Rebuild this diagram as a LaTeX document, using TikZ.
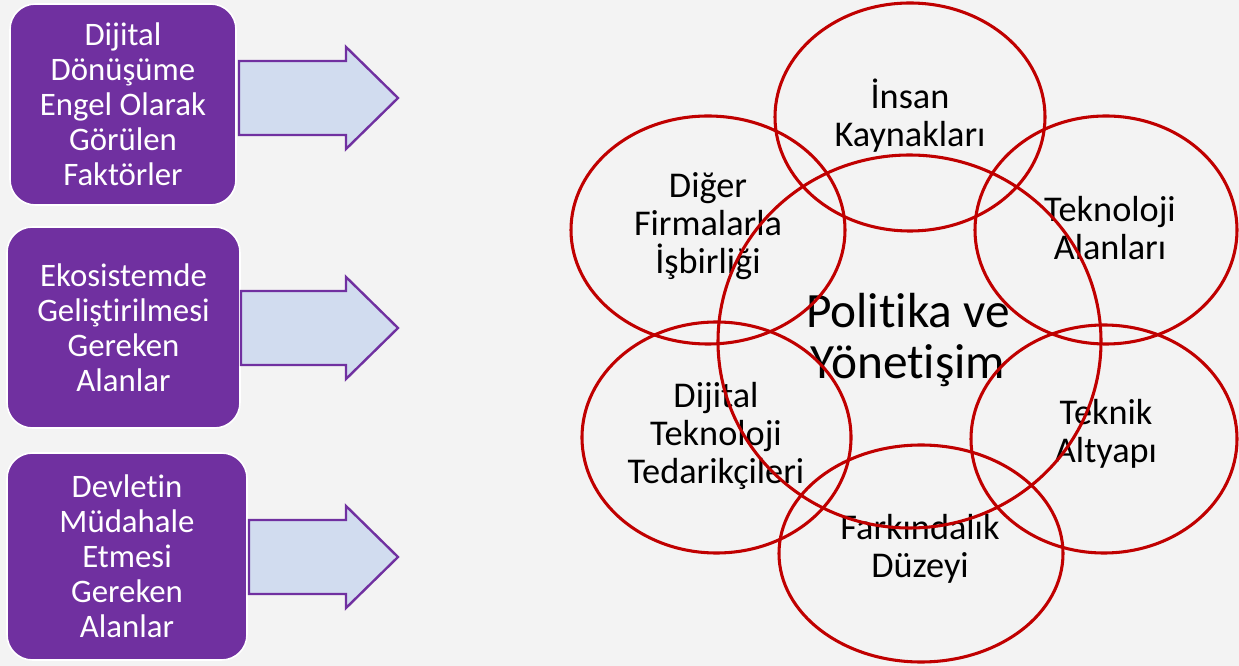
\documentclass[tikz,border=0pt]{standalone}
\usepackage{fontspec}
\setmainfont{Carlito}[Ligatures={NoCommon,NoContextual}]
\usetikzlibrary{shapes.geometric}
\definecolor{paper}{RGB}{243,243,243}
\definecolor{boxpurple}{RGB}{112,48,160}
\definecolor{arrowblue}{RGB}{209,220,239}
\definecolor{ringred}{RGB}{192,0,0}
\tikzset{
  factorbox/.style={draw=white, line width=1.2pt, fill=boxpurple, rounded corners=19pt,
    text=white, align=center, inner sep=0pt,
    font=\fontsize{24.6pt}{26.25pt}\selectfont},
  blockarrow/.style={draw=boxpurple, line width=1.8pt, fill=arrowblue, line join=miter},
  ring/.style 2 args={draw=ringred, line width=2.3pt, ellipse, inner sep=0pt,
    minimum width=#1*0.75pt, minimum height=#2*0.75pt},
  ringtext/.style={align=center, inner sep=0pt, text=black,
    font=\fontsize{27.2pt}{28.5pt}\selectfont},
  coretext/.style={align=center, inner sep=0pt, text=black,
    font=\fontsize{37pt}{38.25pt}\selectfont}
}
\begin{document}
\begin{tikzpicture}[x=0.75pt, y=-0.75pt]
  % page and paper background
  \useasboundingbox (0,0) rectangle (1239,666);
  \fill[paper] (0,0) rectangle (1239,666);

  % left column: purple factor boxes
  \node[factorbox, minimum width=226*0.75pt, minimum height=201*0.75pt] (b1) at (123,104.5)
    {Dijital\\Dönüşüme\\Engel Olarak\\Görülen\\Faktörler};
  \node[factorbox, minimum width=233*0.75pt, minimum height=201*0.75pt] (b2) at (123.5,327.5)
    {Ekosistemde\\Geliştirilmesi\\Gereken\\Alanlar};
  \node[factorbox, minimum width=240*0.75pt, minimum height=207*0.75pt] (b3) at (127,556.5)
    {Devletin\\Müdahale\\Etmesi\\Gereken\\Alanlar};

  % block arrows pointing to the cluster
  \foreach \sx/\cy in {239/98, 241/328, 249/557}
    \draw[blockarrow] (\sx,\cy-37) -- (346,\cy-37) -- (346,\cy-51) -- (398,\cy)
      -- (346,\cy+51) -- (346,\cy+37) -- (\sx,\cy+37) -- cycle;

  % labels of the cluster
  \node[ringtext] (hrt) at (910,116) {İnsan\\Kaynakları};
  \node[ringtext] (cot) at (708,226) {Diğer\\Firmalarla\\İşbirliği};
  \node[ringtext] (tat) at (1110,228) {Teknoloji\\Alanları};
  \node[coretext] (pgt) at (908,340) {Politika ve\\Yönetişim};
  \node[ringtext] (dtt) at (716,436) {Dijital\\Teknoloji\\Tedarikçileri};
  \node[ringtext] (tit) at (1106,434) {Teknik\\Altyapı};
  \node[ringtext] (fdt) at (920,549) {Farkındalık\\Düzeyi};

  % overlapping rings, drawn over the labels
  \node[ring={270}{228}] (hr) at (910,117) {};
  \node[ring={274}{228}] (co) at (708,230) {};
  \node[ring={262}{228}] (ta) at (1106,230) {};
  \node[ring={383}{373}] (pg) at (909.5,341.5) {};
  \node[ring={269}{231}] (dt) at (716.5,437.5) {};
  \node[ring={266}{228}] (ti) at (1104,439) {};
  \node[ring={284}{217}] (fd) at (921,553.5) {};
\end{tikzpicture}
\end{document}
